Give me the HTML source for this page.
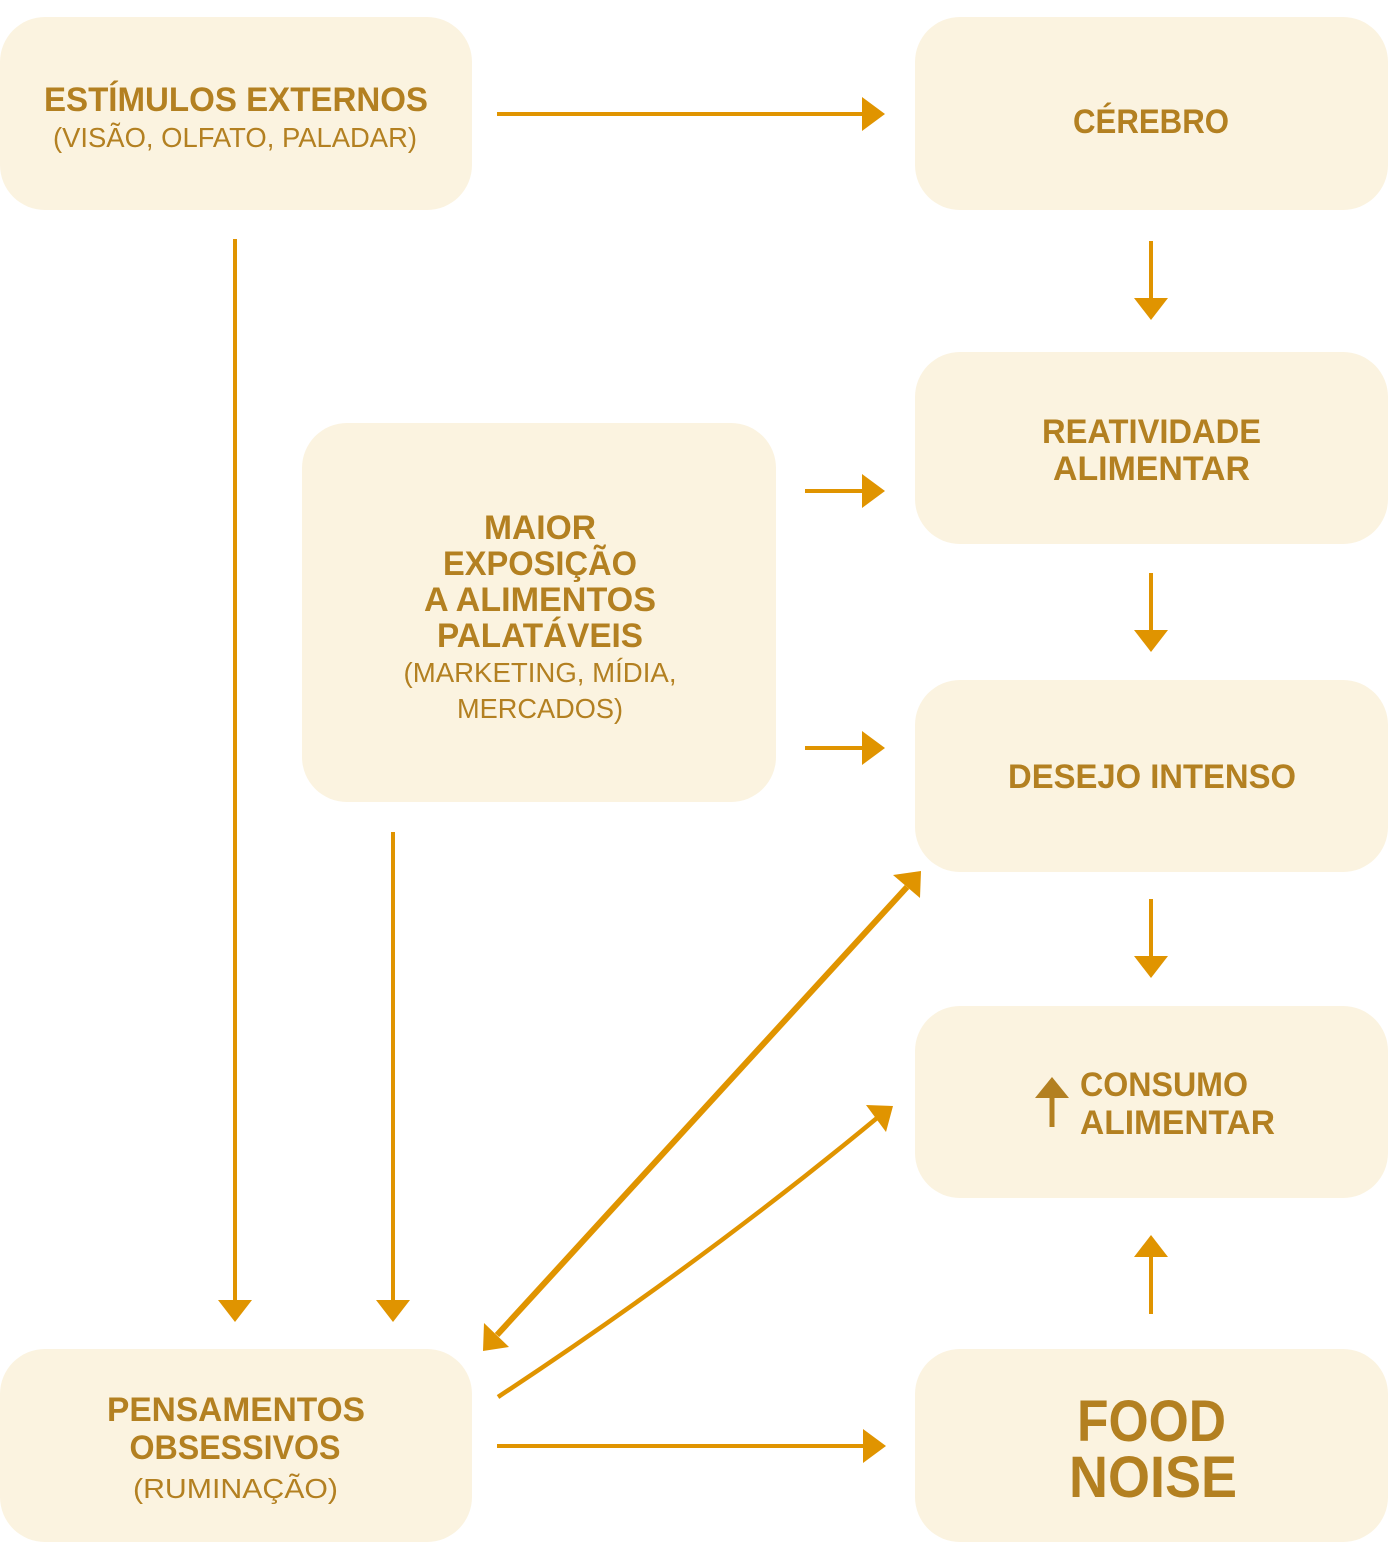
<!DOCTYPE html>
<html>
<head>
<meta charset="utf-8">
<style>
  html, body { margin: 0; padding: 0; background: #ffffff; }
  svg { display: block; }
  .b { font-family: "Liberation Sans", Arial, sans-serif; font-weight: bold; font-size: 34px; fill: #b38021; }
  .r { font-family: "Liberation Sans", Arial, sans-serif; font-weight: normal; font-size: 28px; fill: #b38021; }
  .big { font-family: "Liberation Sans", Arial, sans-serif; font-weight: bold; font-size: 58px; fill: #b38021; }
</style>
</head>
<body>
<svg width="1388" height="1560" viewBox="0 0 1388 1560" xmlns="http://www.w3.org/2000/svg">
  <!-- Boxes -->
  <g fill="#fbf3e0">
    <rect x="0" y="17" width="472" height="193" rx="45" ry="45"/>
    <rect x="915" y="17" width="473" height="193" rx="45" ry="45"/>
    <rect x="915" y="352" width="473" height="192" rx="45" ry="45"/>
    <rect x="302" y="423" width="474" height="379" rx="45" ry="45"/>
    <rect x="915" y="680" width="473" height="192" rx="45" ry="45"/>
    <rect x="915" y="1006" width="473" height="192" rx="45" ry="45"/>
    <rect x="0" y="1349" width="472" height="193" rx="45" ry="45"/>
    <rect x="915" y="1349" width="473" height="193" rx="45" ry="45"/>
  </g>

  <!-- Arrows -->
  <g stroke="#e09400" fill="none" stroke-width="4">
    <!-- horizontal -->
    <line x1="497" y1="114" x2="864" y2="114"/>
    <line x1="805" y1="491" x2="864" y2="491"/>
    <line x1="805" y1="748" x2="864" y2="748"/>
    <line x1="497" y1="1446" x2="864" y2="1446"/>
    <!-- vertical -->
    <line x1="235" y1="239" x2="235" y2="1302"/>
    <line x1="393" y1="832" x2="393" y2="1302"/>
    <line x1="1151" y1="241" x2="1151" y2="300"/>
    <line x1="1151" y1="573" x2="1151" y2="632"/>
    <line x1="1151" y1="899" x2="1151" y2="958"/>
    <line x1="1151" y1="1314" x2="1151" y2="1255"/>
    <!-- long diagonal double -->
    <line x1="907" y1="887" x2="497" y2="1335" stroke-width="6"/>
    <!-- curved diagonal -->
    <path d="M498,1397 Q703,1262 877,1118" stroke-width="4.5"/>
  </g>
  <g fill="#e09400">
    <!-- horizontal heads -->
    <polygon points="862,97 885,114 862,131"/>
    <polygon points="862,474 885,491 862,508"/>
    <polygon points="862,731 885,748 862,765"/>
    <polygon points="863,1429 886,1446 863,1463"/>
    <!-- vertical heads -->
    <polygon points="218,1300 252,1300 235,1322"/>
    <polygon points="376,1300 410,1300 393,1322"/>
    <polygon points="1134,298 1168,298 1151,320"/>
    <polygon points="1134,630 1168,630 1151,652"/>
    <polygon points="1134,956 1168,956 1151,978"/>
    <polygon points="1134,1257 1168,1257 1151,1235"/>
    <!-- long diagonal heads -->
    <polygon points="921,871 893,875 920,898"/>
    <polygon points="483,1351 484,1323 509,1347"/>
    <!-- curved diagonal head -->
    <polygon points="893,1106 866,1105 886,1132"/>
  </g>

  <!-- Consumo icon arrow -->
  <g fill="#b38021">
    <rect x="1049.5" y="1096" width="5" height="31"/>
    <polygon points="1052,1077 1035,1098 1069,1098"/>
  </g>

  <!-- Texts -->
  <text class="b" x="236" y="111" text-anchor="middle" textLength="384" lengthAdjust="spacingAndGlyphs">ESTÍMULOS EXTERNOS</text>
  <text class="r" x="235" y="147" text-anchor="middle" textLength="364" lengthAdjust="spacingAndGlyphs">(VISÃO, OLFATO, PALADAR)</text>

  <text class="b" x="1151" y="133" text-anchor="middle" textLength="156" lengthAdjust="spacingAndGlyphs">CÉREBRO</text>

  <text class="b" x="1151.5" y="443" text-anchor="middle" textLength="219" lengthAdjust="spacingAndGlyphs">REATIVIDADE</text>
  <text class="b" x="1151.5" y="480" text-anchor="middle" textLength="197" lengthAdjust="spacingAndGlyphs">ALIMENTAR</text>

  <text class="b" x="540" y="539" text-anchor="middle" textLength="112" lengthAdjust="spacingAndGlyphs">MAIOR</text>
  <text class="b" x="540" y="575" text-anchor="middle" textLength="194" lengthAdjust="spacingAndGlyphs">EXPOSIÇÃO</text>
  <text class="b" x="540" y="611" text-anchor="middle" textLength="232" lengthAdjust="spacingAndGlyphs">A ALIMENTOS</text>
  <text class="b" x="540" y="647" text-anchor="middle" textLength="206" lengthAdjust="spacingAndGlyphs">PALATÁVEIS</text>
  <text class="r" x="540" y="682" text-anchor="middle" textLength="273" lengthAdjust="spacingAndGlyphs">(MARKETING, MÍDIA,</text>
  <text class="r" x="540" y="718" text-anchor="middle" textLength="166" lengthAdjust="spacingAndGlyphs">MERCADOS)</text>

  <text class="b" x="1152" y="788" text-anchor="middle" textLength="288" lengthAdjust="spacingAndGlyphs">DESEJO INTENSO</text>

  <text class="b" x="1080" y="1096" textLength="168" lengthAdjust="spacingAndGlyphs">CONSUMO</text>
  <text class="b" x="1080" y="1134" textLength="195" lengthAdjust="spacingAndGlyphs">ALIMENTAR</text>

  <text class="b" x="236" y="1421" text-anchor="middle" textLength="258" lengthAdjust="spacingAndGlyphs">PENSAMENTOS</text>
  <text class="b" x="235" y="1459" text-anchor="middle" textLength="211" lengthAdjust="spacingAndGlyphs">OBSESSIVOS</text>
  <text class="r" x="235.5" y="1498" text-anchor="middle" textLength="205" lengthAdjust="spacingAndGlyphs">(RUMINAÇÃO)</text>

  <text class="big" x="1151.5" y="1441" text-anchor="middle" textLength="149" lengthAdjust="spacingAndGlyphs">FOOD</text>
  <text class="big" x="1153" y="1497" text-anchor="middle" textLength="168" lengthAdjust="spacingAndGlyphs">NOISE</text>
</svg>
</body>
</html>
